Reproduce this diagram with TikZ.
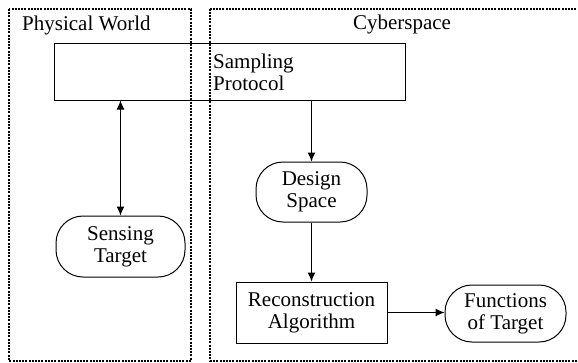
\documentclass[tikz,border=0pt]{standalone}
\usepackage{fontspec}
\setmainfont{Liberation Serif}
\newfontfamily\diagfont{Liberation Serif}
\usetikzlibrary{arrows.meta}
\begin{document}
\begin{tikzpicture}[x=1pt,y=-1pt,
  font=\diagfont\fontsize{21}{22}\selectfont,
  zone/.style={draw, line width=2pt, dash pattern=on 2pt off 1.2pt},
  boxnode/.style={draw, line width=1pt, rectangle, inner sep=0pt, align=center},
  pill/.style={draw, line width=1pt, rounded corners=27pt, inner sep=0pt, align=center},
  conn/.style={line width=1pt, -{Latex[length=9pt,width=8pt]}},
  conn2/.style={line width=1pt, {Latex[length=9pt,width=8pt]}-{Latex[length=9pt,width=8pt]}}]
\useasboundingbox (0,0) rectangle (578,362);
\fill[white] (0,0) rectangle (578,362);
% zones
\draw[zone] (9,9) rectangle (191,360.5);
\draw[zone] (210,8.5) rectangle (590,360.5);
\node[anchor=west, inner sep=0pt] (pw) at (22,25) {Physical World};
\node[inner sep=0pt] (cs) at (402,24) {Cyberspace};
% nodes
\node[boxnode, minimum width=351pt, minimum height=57pt] (samp) at (229.5,71.5) {};
\node[anchor=west, align=left, inner sep=0pt] (samplbl) at (213,72) {Sampling\\Protocol};
\node[pill, minimum width=129pt, minimum height=61pt] (sens) at (120.5,246.5) {Sensing\\Target};
\node[pill, minimum width=111pt, minimum height=60pt] (des) at (311.5,192) {Design\\Space};
\node[boxnode, minimum width=151pt, minimum height=61pt] (rec) at (311.5,312.5) {Reconstruction\\Algorithm};
\node[pill, minimum width=121pt, minimum height=57pt] (fun) at (505.5,313.5) {Functions\\of Target};
% connectors
\draw[conn2] (sens.north |- samp.south) -- (sens.north);
\draw[conn] (des.north |- samp.south) -- (des.north);
\draw[conn] (des.south) -- (rec.north);
\draw[conn] (rec.east) -- (rec.east -| fun.west);
\end{tikzpicture}
\end{document}
